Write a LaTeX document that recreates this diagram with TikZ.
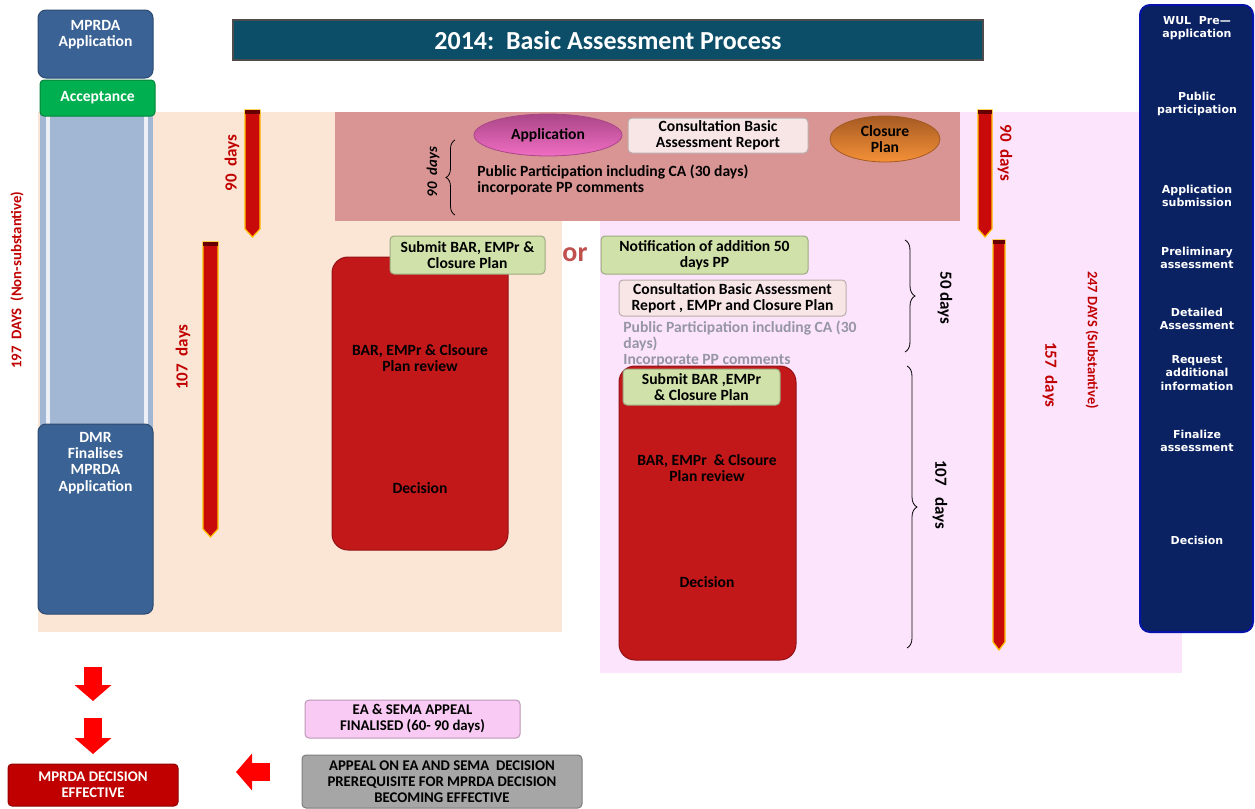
\documentclass[tikz,border=0pt]{standalone}
\usepackage{fontspec}
\setmainfont{Carlito}
\newfontfamily\verdfont{DejaVu Sans}
\usetikzlibrary{arrows.meta, positioning, shapes.geometric, decorations.pathreplacing}

\definecolor{mpblue}{RGB}{59,98,148}
\definecolor{collight}{RGB}{162,183,211}
\definecolor{accgreen}{RGB}{0,176,80}
\definecolor{titleteal}{RGB}{12,78,104}
\definecolor{peach}{RGB}{251,230,214}
\definecolor{rose}{RGB}{217,149,148}
\definecolor{pinkbg}{RGB}{252,228,252}
\definecolor{barred}{RGB}{200,10,10}
\definecolor{gold}{RGB}{255,192,0}
\definecolor{boxred}{RGB}{194,24,26}
\definecolor{effred}{RGB}{192,0,0}
\definecolor{lgreen}{RGB}{208,226,170}
\definecolor{consult}{RGB}{248,230,230}
\definecolor{navy}{RGB}{10,34,98}
\definecolor{appealpink}{RGB}{249,202,243}
\definecolor{appealgrey}{RGB}{166,166,166}
\definecolor{daysred}{RGB}{192,0,0}
\definecolor{orred}{RGB}{192,80,77}
\definecolor{appmag}{RGB}{240,110,195}
\definecolor{appdark}{RGB}{170,70,135}
\definecolor{closeor}{RGB}{245,145,55}
\definecolor{closedark}{RGB}{165,90,35}
\definecolor{ppgrey}{RGB}{150,150,165}

\begin{document}
\begin{tikzpicture}[
        x=0.5pt, y=-0.5pt,
        every node/.style={font=\bfseries\fontsize{7.8}{8.2}\selectfont, align=center, inner sep=0pt},
        box/.style={draw=#1!75!black, fill=#1, rounded corners=2pt, line width=0.5pt},
        daylabel/.style={text=daysred, font=\bfseries\fontsize{8.5}{9}\selectfont},
        bar/.style={fill=barred, draw=gold, line width=0.6pt},
        blockarrow/.style={red, line width=9pt, -{Triangle[length=8pt, width=18pt]}},
        coltext/.style={text=white, font=\verdfont\bfseries\fontsize{5.5}{6.6}\selectfont},
        bottomtext/.style={font=\bfseries\fontsize{7.4}{8}\selectfont}
    ]

    \useasboundingbox (0,0) rectangle (1255,809);

    % Background panels
    \fill[peach] (38,112) rectangle (562,632);
    \fill[pinkbg] (600,221) rectangle (1182,673);
    \fill[pinkbg] (960,112) rectangle (1182,221);
    \fill[rose] (335,112) rectangle (960,221);

    % MPRDA column
    \fill[collight] (40,112) rectangle (153,430);
    \draw[white, line width=2pt, opacity=0.8] (48,116) -- (48,426) (146,116) -- (146,426);
    \node[box=mpblue, minimum width=57.5pt, minimum height=34pt, rounded corners=4pt] (mprda) at (95.5,44) {};
    \node[text=white, below=5pt of mprda.north] (mprdatxt) {MPRDA\\Application};
    \node[box=accgreen, text=white, minimum width=57.5pt, minimum height=18pt] (accept) at (97.5,98) {Acceptance};
    \node[box=mpblue, minimum width=57.5pt, minimum height=95pt, rounded corners=4pt] (dmr) at (95.5,519) {};
    \node[text=white, below=4pt of dmr.north] (dmrtxt) {DMR\\Finalises\\MPRDA\\Application};
    \node[daylabel, rotate=90, font=\bfseries\fontsize{7.4}{8}\selectfont] (nonsub) at (17,280) {197\ \ DAYS\ \ (Non-substantive)};

    % Title
    \node[fill=titleteal, draw=gray!60!black, line width=1.2pt, minimum width=375pt, minimum height=20pt,
          text=white, font=\bfseries\fontsize{13}{15}\selectfont] (title) at (608,40) {2014:\ \ Basic Assessment Process};

    % WUL column
    \node[box=navy, draw=blue!45!navy, line width=1pt, rounded corners=5pt, minimum width=56.5pt, minimum height=313.5pt] (wul) at (1196.5,318.5) {};
    \foreach \y/\t in {28/{WUL\ \ Pre—\\application}, 104/{Public\\participation}, 196/{Application\\submission},
                       258/{Preliminary\\assessment}, 319/{Detailed\\Assessment}, 373/{Request\\additional\\information},
                       441/{Finalize\\assessment}, 540/{Decision}} {
        \node[coltext] (wul\y) at (1197,\y) {\t};
    }

    % Public participation band
    \node[ellipse, top color=appdark, bottom color=appmag, draw=appdark, line width=0.4pt, minimum width=74pt, minimum height=21pt] (app) at (548,135) {Application};
    \node[box=consult, minimum width=90pt, minimum height=17.5pt] (consult1) at (718,135.5) {Consultation Basic\\Assessment Report};
    \node[ellipse, top color=closedark, bottom color=closeor, draw=closedark, line width=0.4pt, minimum width=55pt, minimum height=23pt] (closure) at (885,139) {Closure\\Plan};
    \coordinate (br1a) at (455,215);
    \coordinate (br1b) at (455,140);
    \draw[decorate, decoration={brace, amplitude=4.5pt}] (br1a) -- (br1b);
    \node[rotate=90, font=\bfseries\itshape\fontsize{7.4}{8}\selectfont] (pp90) at (433,172) {90\ \ days};
    \node[anchor=west, align=left] (pptxt) at (477,180) {Public Participation including CA (30 days)\\incorporate PP comments};

    % Day bars
    \foreach \xa/\xb/\ya/\yb in {245/260/110/237, 203/218/242/537, 978/992/110/237, 993/1005/240/650} {
        \draw[bar] (\xa,\ya) -- (\xb,\ya) -- (\xb,\yb-8) -- ({(\xa+\xb)/2},\yb) -- (\xa,\yb-8) -- cycle;
        \fill[black!60!red] (\xa,\ya) rectangle (\xb,\ya+4);
    }
    \node[daylabel, rotate=90] (d90l) at (232,163) {90\ \ days};
    \node[daylabel, rotate=90] (d107l) at (183,357) {107\ \ days};
    \node[daylabel, rotate=-90] (d90r) at (1005,153) {90\ \ days};
    \node[daylabel, rotate=-90] (d157) at (1050,375) {157\ \ days};
    \node[daylabel, rotate=-90, font=\bfseries\fontsize{7.2}{8}\selectfont] (subst) at (1092,340) {247 DAYS (Substantive)};

    % Non-substantive route
    \node[box=boxred, rounded corners=8pt, minimum width=88pt, minimum height=146.5pt] (revL) at (420,403.5) {};
    \node (revLtxt) at (420,358) {BAR, EMPr \& Clsoure\\Plan review};
    \node (decL) at (420,488) {Decision};
    \node[box=lgreen, minimum width=77.5pt, minimum height=19pt] (subL) at (467.5,255) {Submit BAR, EMPr \&\\Closure Plan};
    \node[text=orred, font=\bfseries\fontsize{14}{15}\selectfont] (or) at (575,255) {or};

    % Substantive route
    \node[box=lgreen, minimum width=103.5pt, minimum height=19pt] (notif) at (704.5,255) {Notification of addition 50\\days PP};
    \node[box=consult, minimum width=113.5pt, minimum height=18pt] (consult2) at (732.5,298) {Consultation Basic Assessment\\Report , EMPr and Closure Plan};
    \node[anchor=west, align=left, text=ppgrey] (pp2txt) at (623,344) {Public Participation including CA (30\\days)\\Incorporate PP comments};
    \node[box=boxred, rounded corners=8pt, minimum width=88.5pt, minimum height=147pt] (revR) at (707.5,513) {};
    \node[box=lgreen, minimum width=78.5pt, minimum height=18pt] (subR) at (701.5,387) {Submit BAR ,EMPr\\\& Closure Plan};
    \node (revRtxt) at (707,468) {BAR, EMPr\ \ \& Clsoure\\Plan review};
    \node (decR) at (707,582) {Decision};

    \coordinate (br2a) at (905,240);
    \coordinate (br2b) at (905,352);
    \draw[decorate, decoration={brace, amplitude=5pt}] (br2a) -- (br2b);
    \node[rotate=-90, font=\bfseries\fontsize{8.5}{9}\selectfont] (d50) at (945,298) {50 days};
    \coordinate (br3a) at (907,366);
    \coordinate (br3b) at (907,648);
    \draw[decorate, decoration={brace, amplitude=5pt}] (br3a) -- (br3b);
    \node[rotate=-90, font=\bfseries\fontsize{8.5}{9}\selectfont] (d107r) at (940,495) {107\ \ \ days};

    % Appeal and final decision
    \coordinate (dn1a) at (93,667);
    \coordinate (dn1b) at (93,701);
    \coordinate (dn2a) at (93,718);
    \coordinate (dn2b) at (93,754);
    \draw[blockarrow] (dn1a) -- (dn1b);
    \draw[blockarrow] (dn2a) -- (dn2b);
    \node[box=effred, bottomtext, text=white, minimum width=85pt, minimum height=21pt] (eff) at (93,785) {MPRDA DECISION\\EFFECTIVE};
    \coordinate (lar1) at (270,772);
    \coordinate (lar2) at (236,772);
    \draw[blockarrow] (lar1) -- (lar2);
    \node[box=appealpink, bottomtext, minimum width=107.5pt, minimum height=19pt] (fin) at (412.5,719) {EA \& SEMA APPEAL\\FINALISED (60- 90 days)};
    \node[box=appealgrey, bottomtext, minimum width=140pt, minimum height=26.5pt] (appeal) at (442,781.5) {APPEAL ON EA AND SEMA\ \ DECISION\\PREREQUISITE FOR MPRDA DECISION\\BECOMING EFFECTIVE};

\end{tikzpicture}
\end{document}
